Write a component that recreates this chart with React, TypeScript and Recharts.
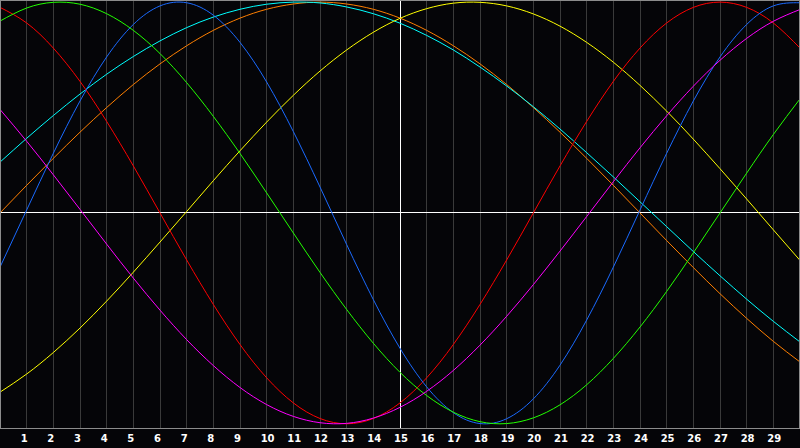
import React from 'react'
import { LineChart, Line, XAxis, YAxis, CartesianGrid, ReferenceLine } from 'recharts'

const days = [0, 1, 2, 3, 4, 5, 6, 7, 8, 9, 10, 11, 12, 13, 14, 15, 16, 17, 18, 19, 20, 21, 22, 23, 24, 25, 26, 27, 28, 29, 30]
const tickDays = [1, 2, 3, 4, 5, 6, 7, 8, 9, 10, 11, 12, 13, 14, 15, 16, 17, 18, 19, 20, 21, 22, 23, 24, 25, 26, 27, 28, 29]

const red = [97.5, 90.1, 78.2, 62.4, 43.4, 22.3, 0, -22.3, -43.4, -62.4, -78.2, -90.1, -97.5, -100, -97.5, -90.1, -78.2, -62.4, -43.4, -22.3, 0, 22.3, 43.4, 62.4, 78.2, 90.1, 97.5, 100, 97.5, 90.1, 78.2]
const green = [91.0, 97.2, 99.9, 99.0, 94.5, 86.6, 75.6, 61.8, 45.8, 28.2, 9.5, -9.5, -28.2, -45.8, -61.8, -75.6, -86.6, -94.5, -99.0, -99.9, -97.2, -91.0, -81.5, -69.0, -54.1, -37.2, -18.9, 0, 18.9, 37.2, 54.1]
const blue = [-25.7, 1.4, 28.3, 53.1, 74.0, 89.4, 98.2, 99.7, 93.8, 80.9, 62.1, 38.6, 12.3, -15.0, -41.1, -64.2, -82.5, -94.7, -99.9, -97.6, -88.2, -72.2, -50.8, -25.7, 1.4, 28.3, 53.1, 74.0, 89.4, 98.2, 99.7]
const cyan = [24.1, 35.4, 46.2, 56.4, 65.8, 74.2, 81.6, 87.9, 92.9, 96.6, 99.0, 100, 99.6, 97.7, 94.5, 90.0, 84.2, 77.3, 69.2, 60.2, 50.4, 39.8, 28.6, 17.1, 5.3, -6.5, -18.3, -29.8, -40.9, -51.4, -61.2]
const orange = [0, 13.1, 25.9, 38.3, 50.0, 60.9, 70.7, 79.3, 86.6, 92.4, 96.6, 99.1, 100, 99.1, 96.6, 92.4, 86.6, 79.3, 70.7, 60.9, 50.0, 38.3, 25.9, 13.1, 0, -13.1, -25.9, -38.3, -50.0, -60.9, -70.7]
const yellow = [-85.0, -76.4, -66.2, -54.6, -41.8, -28.1, -13.8, 0.7, 15.3, 29.5, 43.1, 55.8, 67.3, 77.3, 85.7, 92.3, 96.9, 99.5, 99.9, 98.2, 94.4, 88.6, 80.9, 71.5, 60.5, 48.3, 35.0, 21.0, 6.6, -8.0, -22.5]
const magenta = [49.1, 34.0, 18.1, 1.7, -14.8, -30.9, -46.1, -60.1, -72.4, -82.8, -90.9, -96.5, -99.5, -99.8, -97.3, -92.2, -84.6, -74.7, -62.7, -49.0, -34.0, -18.1, -1.7, 14.8, 30.9, 46.1, 60.1, 72.4, 82.8, 90.9, 96.5]

const data = days.map((d, i) => ({
  day: d,
  red: red[i],
  green: green[i],
  blue: blue[i],
  cyan: cyan[i],
  orange: orange[i],
  yellow: yellow[i],
  magenta: magenta[i],
}))

const series = [
  { key: 'orange', color: '#ff7f00' },
  { key: 'cyan', color: '#00ffff' },
  { key: 'yellow', color: '#ffff00' },
  { key: 'red', color: '#ff0000' },
  { key: 'blue', color: '#1a6aff' },
  { key: 'green', color: '#22ff00' },
  { key: 'magenta', color: '#ff00ff' },
]

const DayTick = (props: any) => {
  const { x, y, payload } = props
  return (
    <text x={x - 6} y={y + 14} textAnchor="start" fill="#ffffff" fontSize={10} fontWeight="bold" fontFamily="DejaVu Sans, sans-serif">
      {payload.value}
    </text>
  )
}

export default function App() {
  return (
    <div style={{ position: 'absolute', left: 0, top: 0, width: 800, height: 448, background: '#050508' }}>
      <LineChart width={800} height={448} data={data} margin={{ top: 0, right: 0, bottom: 0, left: 0 }}>
        <CartesianGrid vertical horizontal={false} stroke="#3a3a3a" shapeRendering="crispEdges" />
        <XAxis
          dataKey="day"
          type="number"
          domain={[0, 30]}
          ticks={tickDays}
          height={20}
          axisLine={false}
          tickLine={false}
          tickSize={0}
          tickMargin={0}
          tick={<DayTick />}
          interval={0}
        />
        <YAxis hide domain={[-102, 101]} allowDataOverflow width={0} />
        <ReferenceLine x={15} stroke="#ffffff" shapeRendering="crispEdges" />
        <ReferenceLine y={0} stroke="#ffffff" shapeRendering="crispEdges" />
        {series.map((s) => (
          <Line
            key={s.key}
            type="natural"
            dataKey={s.key}
            stroke={s.color}
            strokeWidth={1}
            dot={false}
            activeDot={false}
            isAnimationActive={false}
          />
        ))}
      </LineChart>
      <div
        style={{
          position: 'absolute',
          left: 0,
          top: 0,
          width: 800,
          height: 429,
          boxSizing: 'border-box',
          border: '1px solid #8c8c8c',
          pointerEvents: 'none',
        }}
      />
    </div>
  )
}
